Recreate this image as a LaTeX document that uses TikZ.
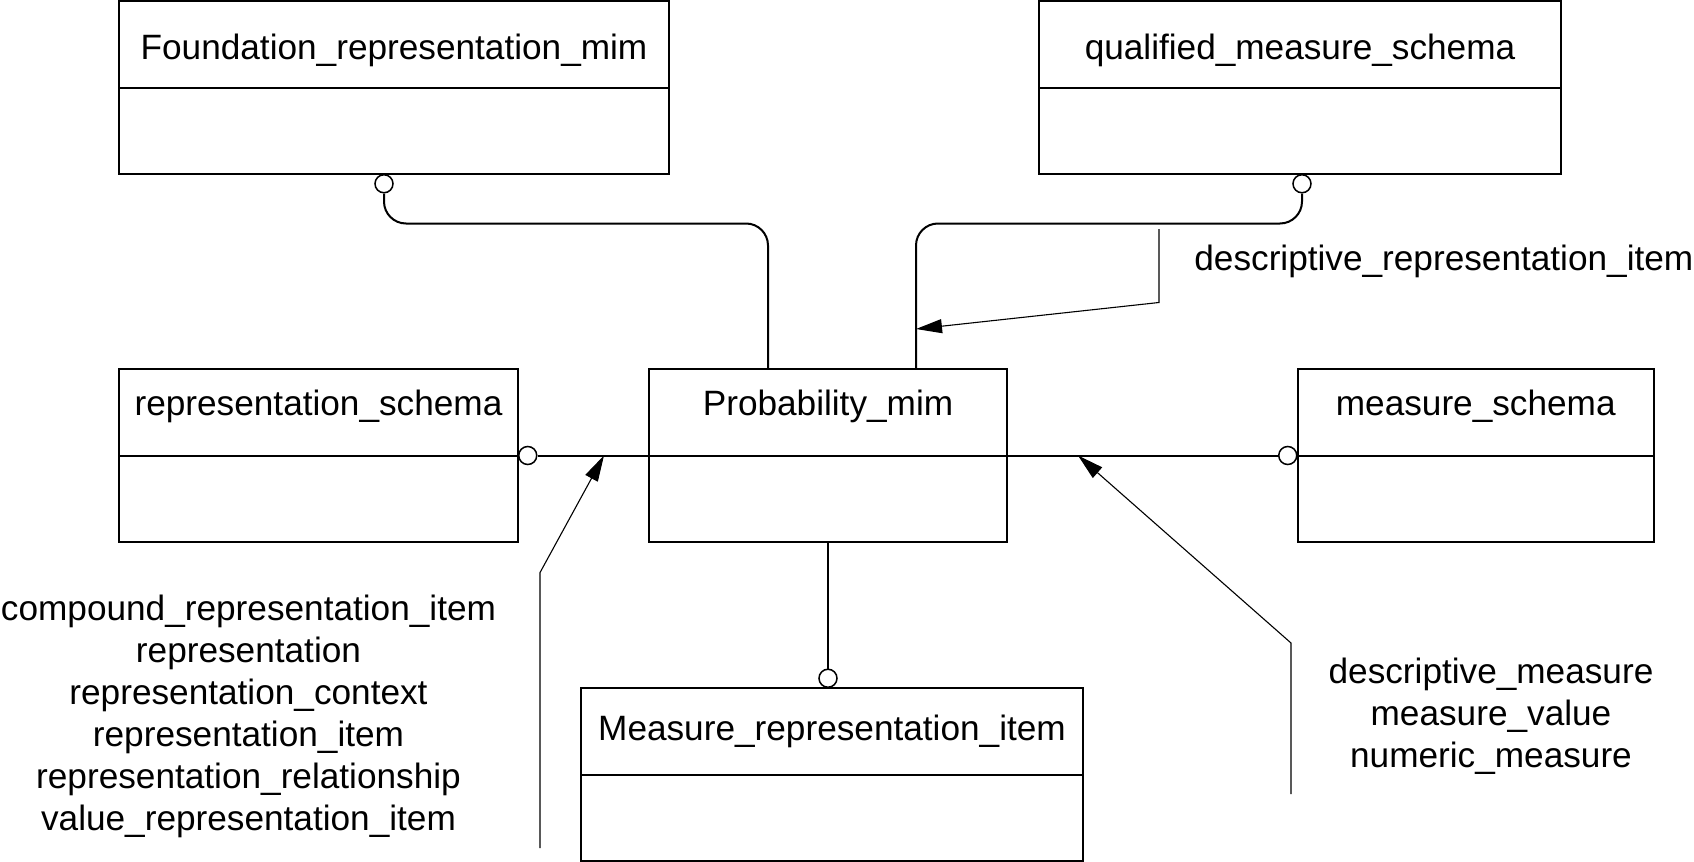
\documentclass[tikz,border=0pt]{standalone}
\usepackage{fontspec}
\setmainfont{Liberation Sans}
\usetikzlibrary{positioning,arrows.meta}
\begin{document}
\begin{tikzpicture}[x=0.5pt, y=-0.5pt, node distance=0pt]
      \tikzset{
	  schema/.style={rectangle, draw=black, line width=1pt, outer sep=0pt, minimum height=43.25pt, inner sep=0pt, text centered, font=\fontsize{17.6}{21}\selectfont},
	  toprow/.style={text height=18pt, text depth=3.2pt},
	  midrow/.style={text height=12pt, text depth=9.2pt},
	  ring/.style={circle, draw=black, line width=0.75pt, fill=white, inner sep=0pt, minimum size=9pt},
	  link/.style={draw=black, line width=1pt},
	  thinlink/.style={draw=black, line width=0.55pt},
	  ptr/.style={draw=black, line width=0.55pt, -{Triangle[length=13pt, width=7pt]}},
	  itemlist/.style={align=center, inner sep=0pt, font=\fontsize{17.6}{21}\selectfont}
      }
      \useasboundingbox (0,0) rectangle (1694,862);

      \node at (394, 44.25) [schema, toprow, minimum width=275pt] (found) {Foundation\_representation\_mim};
      \node [schema, minimum width=275pt, below=of found] (found-low) {};
      \node at (1300, 44.25) [schema, toprow, minimum width=261pt] (qual) {qualified\_measure\_schema};
      \node [schema, minimum width=261pt, below=of qual] (qual-low) {};
      \node at (318.5, 412.25) [schema, midrow, minimum width=199.5pt] (repr) {representation\_schema};
      \node [schema, minimum width=199.5pt, below=of repr] (repr-low) {};
      \node at (828, 412.25) [schema, midrow, minimum width=179pt] (prob) {Probability\_mim};
      \node [schema, minimum width=179pt, below=of prob] (prob-low) {};
      \node at (1475.75, 412.25) [schema, midrow, minimum width=178.25pt] (meas) {measure\_schema};
      \node [schema, minimum width=178.25pt, below=of meas] (meas-low) {};
      \node at (832, 731.25) [schema, minimum width=251pt] (mri) {Measure\_representation\_item};
      \node [schema, minimum width=251pt, below=of mri] (mri-low) {};

      \node [ring, anchor=north] (found-ring) at ([xshift=-5pt]found-low.south) {};
      \draw [link, rounded corners=11pt] (found-ring.south) -- ++(0,30) -| ([xshift=-30pt]prob.north);
      \node [ring, anchor=north] (qual-ring) at ([xshift=1pt]qual-low.south) {};
      \draw [link, rounded corners=11pt] (qual-ring.south) -- ++(0,30) -| ([xshift=44pt]prob.north);

      \node [ring, anchor=west] (repr-ring) at (repr.south east) {};
      \draw [link] (repr-ring.east) -- (prob.south west);
      \node [ring, anchor=east] (meas-ring) at (meas.south west) {};
      \draw [link] (prob.south east) -- (meas-ring.west);
      \node [ring, anchor=south] (mri-ring) at (prob-low.south |- mri.north) {};
      \draw [thinlink] (prob-low.south) -- (mri-ring.north);

      \coordinate (dri-tail) at (1159, 229);
      \draw [ptr] (dri-tail) -- ++(0,73.5) -- ([xshift=44pt, yshift=20pt]prob.north);
      \node at (1194, 261) [anchor=west, itemlist] (dri) {descriptive\_representation\_item};

      \coordinate (repr-tail) at (540, 848);
      \draw [ptr] (repr-tail) -- ++(0,-275.4) -- ([xshift=-22.5pt]prob.south west);
      \node at (248.5, 716.5) [itemlist] (repr-items) {compound\_representation\_item\\representation\\representation\_context\\representation\_item\\representation\_relationship\\value\_representation\_item};

      \coordinate (meas-tail) at (1291, 794);
      \draw [ptr] (meas-tail) -- ++(0,-151) -- ([xshift=35.5pt]prob.south east);
      \node at (1491, 716) [itemlist] (meas-items) {descriptive\_measure\\measure\_value\\numeric\_measure};
\end{tikzpicture}
\end{document}
